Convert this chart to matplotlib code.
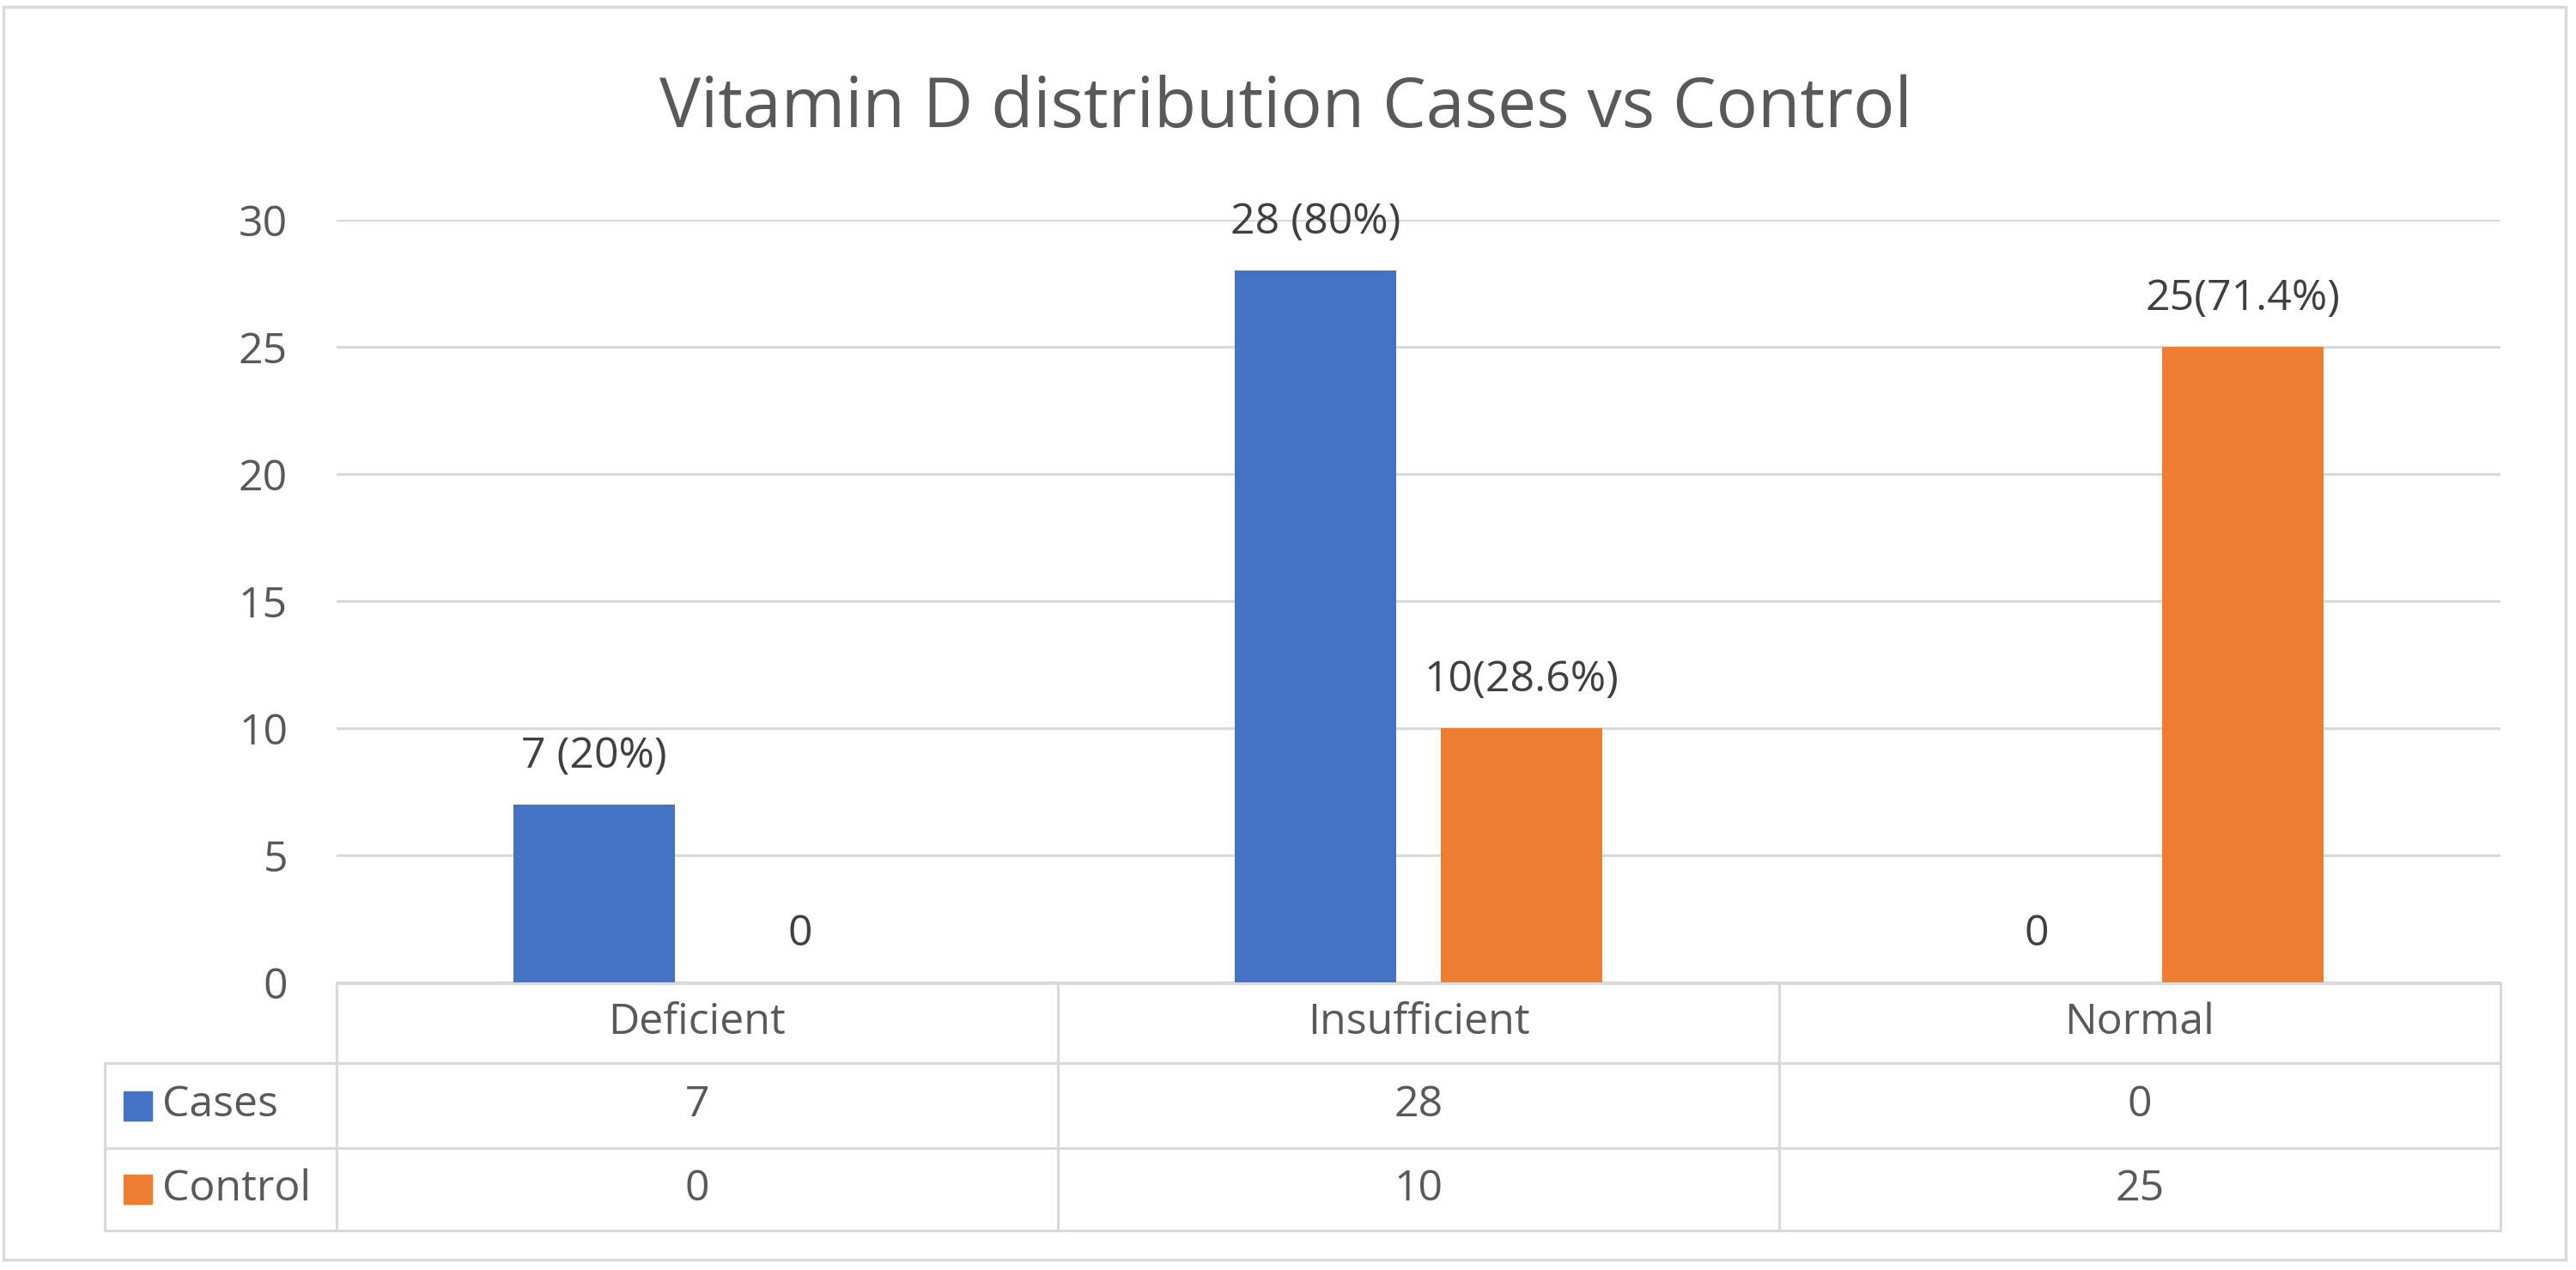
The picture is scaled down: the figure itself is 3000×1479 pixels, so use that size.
import matplotlib
matplotlib.use("Agg")
import matplotlib.pyplot as plt
import matplotlib.transforms as mtransforms
from matplotlib.patches import Rectangle
from matplotlib.lines import Line2D
import numpy as np

categories = ["Deficient", "Insufficient", "Normal"]
series_names = ["Cases", "Control"]
cases = [7, 28, 0]
control = [0, 10, 25]
cases_labels = ["7 (20%)", "28 (80%)", "0"]
control_labels = ["0", "10(28.6%)", "25(71.4%)"]
yticks = [0, 5, 10, 15, 20, 25, 30]
title = "Vitamin D distribution Cases vs Control"

BLUE = "#4472C4"
ORANGE = "#ED7D31"
TXT = "#595959"
GRID = "#D9D9D9"

plt.rcParams["font.family"] = ["Open Sans", "DejaVu Sans"]

W, H = 3000, 1479
fig = plt.figure(figsize=(W / 100, H / 100), dpi=100)

def fx(px):
    return px / W

def fy(py):
    return 1 - py / H

ax_left, ax_right, ax_top, ax_bot = 392, 2912, 256, 1144
ax = fig.add_axes([fx(ax_left), fy(ax_bot), fx(ax_right - ax_left), (ax_bot - ax_top) / H])

x = np.arange(len(categories))
bw = 0.224
off = 0.143
ax.bar(x - off, cases, width=bw, color=BLUE, zorder=3)
ax.bar(x + off, control, width=bw, color=ORANGE, zorder=3)

fs_tick = 36
for xi, v, lab in zip(x - off, cases, cases_labels):
    ax.annotate(lab, (xi, v), xytext=(0, 31), textcoords="offset points",
                ha="center", va="baseline", fontsize=fs_tick, color="#404040")
for xi, v, lab in zip(x + off, control, control_labels):
    ax.annotate(lab, (xi, v), xytext=(0, 31), textcoords="offset points",
                ha="center", va="baseline", fontsize=fs_tick, color="#404040")

ax.set_xlim(-0.5, len(categories) - 0.5)
ax.set_ylim(0, 30)
ax.set_yticks(yticks)
ax.set_yticklabels([str(t) for t in yticks])
ax.set_xticks([])
ax.tick_params(axis="y", length=0, pad=41, labelsize=fs_tick, labelcolor=TXT)
for s in ax.spines.values():
    s.set_visible(False)
ax.grid(axis="y", color=GRID, linewidth=2.2, zorder=0)
ax.set_axisbelow(True)

# Data table below the axis
lc = GRID
lw = 2.2
rows_y = [1145, 1238, 1337, 1433]
leg_left = 122
def hline(y, x0, x1):
    fig.add_artist(Line2D([fx(x0), fx(x1)], [fy(y), fy(y)], color=lc, lw=lw, transform=fig.transFigure))
def vline(xp, y0, y1):
    fig.add_artist(Line2D([fx(xp), fx(xp)], [fy(y0), fy(y1)], color=lc, lw=lw, transform=fig.transFigure))

hline(rows_y[0], ax_left, ax_right)
for yy in rows_y[1:]:
    hline(yy, leg_left, ax_right)
vline(leg_left, rows_y[1], rows_y[3])
ncat = len(categories)
for i in range(ncat + 1):
    xp = ax_left + (ax_right - ax_left) * i / ncat
    vline(xp, rows_y[0], rows_y[3])

trans = mtransforms.blended_transform_factory(ax.transData, fig.transFigure)
def row_center(i):
    return fy((rows_y[i] + rows_y[i + 1]) / 2)

for xi, c in zip(x, categories):
    ax.text(xi, row_center(0), c, transform=trans, ha="center", va="center",
            fontsize=fs_tick, color=TXT, clip_on=False)
for r, vals in enumerate([cases, control]):
    for xi, v in zip(x, vals):
        ax.text(xi, row_center(r + 1), str(v), transform=trans, ha="center", va="center",
                fontsize=fs_tick, color=TXT, clip_on=False)

for r, (name, col) in enumerate(zip(series_names, [BLUE, ORANGE])):
    cy = (rows_y[r + 1] + rows_y[r + 2]) / 2
    fig.add_artist(Rectangle((fx(144), fy(cy + 17)), fx(33), 34 / H, color=col,
                             transform=fig.transFigure))
    fig.text(fx(189), fy(cy), name, ha="left", va="center", fontsize=fs_tick, color=TXT)

fig.text(0.499, fy(148), title, ha="center", va="baseline", fontsize=58, color=TXT)

fig.add_artist(Rectangle((fx(4), fy(1467)), fx(2984), (1467 - 8) / H, fill=False,
                         edgecolor=GRID, lw=2.5, transform=fig.transFigure))

fig.savefig("out.png", dpi=100, facecolor="white")
